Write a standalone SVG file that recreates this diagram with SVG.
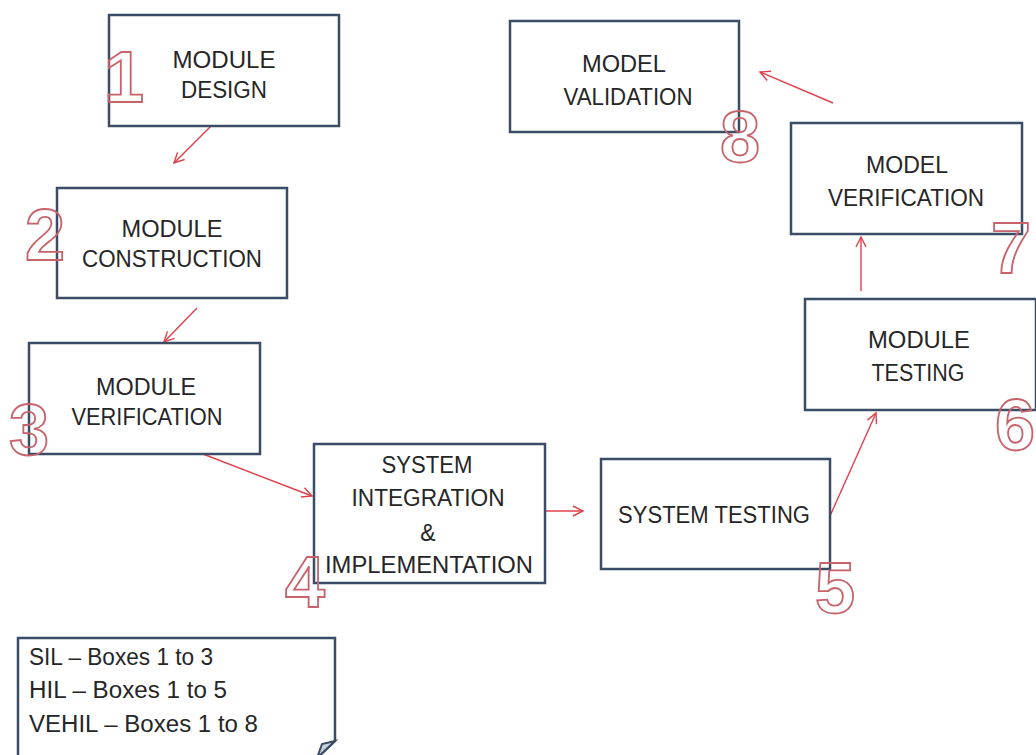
<svg xmlns="http://www.w3.org/2000/svg" width="1036" height="755" viewBox="0 0 1036 755">
<style>
.box{fill:#ffffff;stroke:#3b4d66;stroke-width:2.5}
.t{font-family:"Liberation Sans",Arial,sans-serif;font-size:23px;fill:#262626;text-anchor:middle}
.n{font-family:"Liberation Sans",Arial,sans-serif;font-size:23px;fill:#262626}
.d{font-family:"Liberation Sans",Arial,sans-serif;font-size:72px;font-weight:bold;fill:none;stroke:#c8636c;stroke-width:1.8;text-anchor:middle}
.c{stroke:#e0404b;stroke-width:1.4;fill:none;marker-end:url(#ah)}
</style>
<defs>
<marker id="ah" markerUnits="userSpaceOnUse" markerWidth="14" markerHeight="12" viewBox="-11 -6 12 12" refX="0" refY="0" orient="auto">
<path d="M-10,-5 L0,0 L-10,5" fill="none" stroke="#e0404b" stroke-width="1.4"/>
</marker>
</defs>
<rect width="1036" height="755" fill="#ffffff"/>
<g id="connectors">
<line class="c" x1="211" y1="126" x2="174" y2="163"/>
<line class="c" x1="197" y1="308" x2="164" y2="342"/>
<line class="c" x1="203" y1="454" x2="312" y2="496"/>
<line class="c" x1="510" y1="511" x2="583" y2="511"/>
<line class="c" x1="830" y1="516" x2="876" y2="413"/>
<line class="c" x1="861" y1="291" x2="861" y2="237"/>
<line class="c" x1="833" y1="103" x2="760" y2="72"/>
</g>
<g id="node1">
<rect class="box" x="109" y="15" width="230" height="111"/>
<text class="t" x="224" y="68" textLength="103" lengthAdjust="spacingAndGlyphs">MODULE</text>
<text class="t" x="224" y="98" textLength="86" lengthAdjust="spacingAndGlyphs">DESIGN</text>
<text class="d" x="124" y="102">1</text>
</g>
<g id="node2">
<rect class="box" x="57" y="188" width="230" height="110"/>
<text class="t" x="172" y="237" textLength="101" lengthAdjust="spacingAndGlyphs">MODULE</text>
<text class="t" x="172" y="267" textLength="180" lengthAdjust="spacingAndGlyphs">CONSTRUCTION</text>
<text class="d" x="45" y="260">2</text>
</g>
<g id="node3">
<rect class="box" x="29" y="343" width="231" height="111"/>
<text class="t" x="146" y="395" textLength="100" lengthAdjust="spacingAndGlyphs">MODULE</text>
<text class="t" x="147" y="425" textLength="151" lengthAdjust="spacingAndGlyphs">VERIFICATION</text>
<text class="d" x="29" y="455">3</text>
</g>
<g id="node4">
<rect class="box" x="314" y="444" width="231" height="139"/>
<text class="t" x="427" y="473" textLength="91" lengthAdjust="spacingAndGlyphs">SYSTEM</text>
<text class="t" x="428" y="506" textLength="153" lengthAdjust="spacingAndGlyphs">INTEGRATION</text>
<text class="t" x="428" y="541">&amp;</text>
<text class="t" x="429" y="573" textLength="208" lengthAdjust="spacingAndGlyphs">IMPLEMENTATION</text>
<text class="d" x="305" y="607">4</text>
</g>
<g id="node5">
<rect class="box" x="601" y="459" width="229" height="110"/>
<text class="t" x="714" y="523" textLength="192" lengthAdjust="spacingAndGlyphs">SYSTEM TESTING</text>
<text class="d" x="835" y="613">5</text>
</g>
<g id="node6">
<rect class="box" x="805" y="299" width="231" height="111"/>
<text class="t" x="919" y="348" textLength="102" lengthAdjust="spacingAndGlyphs">MODULE</text>
<text class="t" x="918" y="381" textLength="93" lengthAdjust="spacingAndGlyphs">TESTING</text>
<text class="d" x="1015" y="450">6</text>
</g>
<g id="node7">
<rect class="box" x="791" y="123" width="231" height="111"/>
<text class="t" x="907" y="173" textLength="82" lengthAdjust="spacingAndGlyphs">MODEL</text>
<text class="t" x="906" y="206" textLength="156" lengthAdjust="spacingAndGlyphs">VERIFICATION</text>
<text class="d" x="1011" y="273">7</text>
</g>
<g id="node8">
<rect class="box" x="510" y="21" width="229" height="111"/>
<text class="t" x="624" y="72" textLength="84" lengthAdjust="spacingAndGlyphs">MODEL</text>
<text class="t" x="628" y="105" textLength="129" lengthAdjust="spacingAndGlyphs">VALIDATION</text>
<text class="d" x="740" y="162">8</text>
</g>
<g id="note">
<path class="box" d="M18,638 H335 V741 L317,758 H18 Z"/>
<path d="M335,741 L322,744 L317,758 Z" fill="#c9d2de" stroke="#3b4d66" stroke-width="2"/>
<text class="n" x="29" y="665" textLength="184" lengthAdjust="spacingAndGlyphs">SIL – Boxes 1 to 3</text>
<text class="n" x="29" y="698" textLength="198" lengthAdjust="spacingAndGlyphs">HIL – Boxes 1 to 5</text>
<text class="n" x="29" y="732" textLength="229" lengthAdjust="spacingAndGlyphs">VEHIL – Boxes 1 to 8</text>
</g>
</svg>
